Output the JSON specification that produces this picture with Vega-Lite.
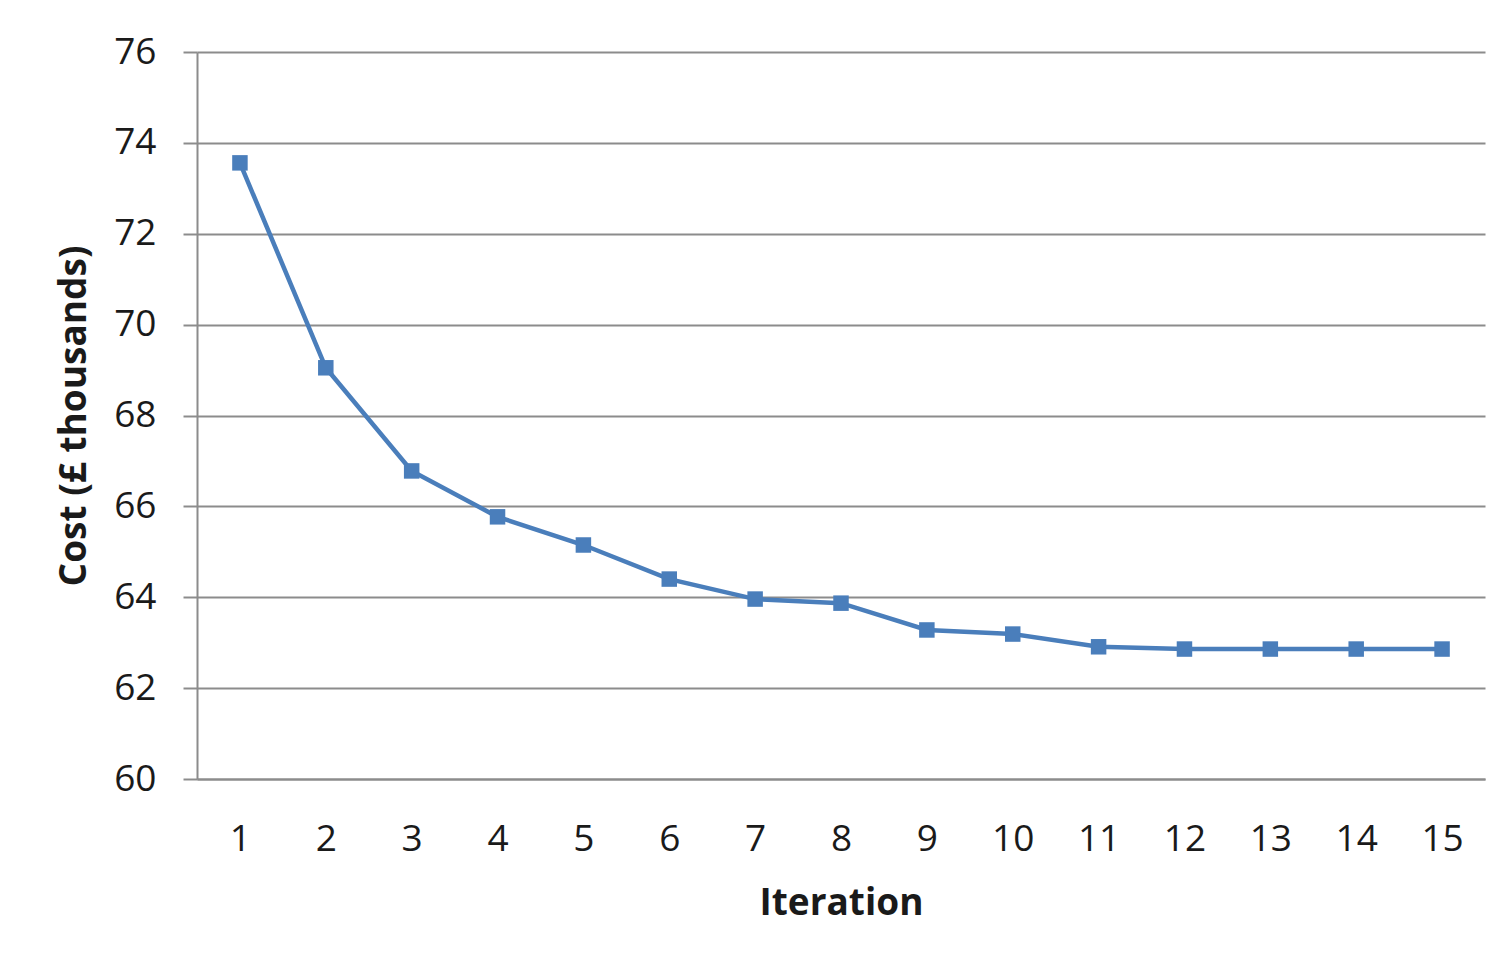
{
  "$schema": "https://vega.github.io/schema/vega-lite/v6.json",
  "autosize": {"type": "none"},
  "width": 1288,
  "height": 727,
  "padding": {"left": 197, "top": 52, "right": 25, "bottom": 183},
  "background": "white",
  "config": {
    "view": {"stroke": null},
    "font": "Open Sans"
  },
  "data": {
    "values": [
      {"Iteration": 1, "Cost": 73.56},
      {"Iteration": 2, "Cost": 69.05},
      {"Iteration": 3, "Cost": 66.78},
      {"Iteration": 4, "Cost": 65.77},
      {"Iteration": 5, "Cost": 65.15},
      {"Iteration": 6, "Cost": 64.4},
      {"Iteration": 7, "Cost": 63.96},
      {"Iteration": 8, "Cost": 63.87},
      {"Iteration": 9, "Cost": 63.28},
      {"Iteration": 10, "Cost": 63.19},
      {"Iteration": 11, "Cost": 62.91},
      {"Iteration": 12, "Cost": 62.86},
      {"Iteration": 13, "Cost": 62.86},
      {"Iteration": 14, "Cost": 62.86},
      {"Iteration": 15, "Cost": 62.86}
    ]
  },
  "encoding": {
    "x": {
      "field": "Iteration",
      "type": "ordinal",
      "scale": {"type": "point", "padding": 0.5},
      "axis": {
        "title": "Iteration",
        "labelAngle": 0,
        "labelFontSize": 37,
        "labelColor": "#1a1a1a",
        "labelPadding": 42,
        "ticks": false,
        "grid": false,
        "domainColor": "#8c8c8c",
        "domainWidth": 2,
        "titleFontSize": 37,
        "titleFontWeight": "bold",
        "titleColor": "#1a1a1a",
        "titlePadding": 28
      }
    },
    "y": {
      "field": "Cost",
      "type": "quantitative",
      "scale": {"domain": [60, 76], "nice": false, "zero": false},
      "axis": {
        "title": "Cost (£ thousands)",
        "values": [60, 62, 64, 66, 68, 70, 72, 74, 76],
        "labelFontSize": 37,
        "labelColor": "#1a1a1a",
        "labelPadding": 27,
        "tickSize": 14,
        "tickColor": "#8c8c8c",
        "tickWidth": 2,
        "gridColor": "#8c8c8c",
        "gridWidth": 2,
        "domainColor": "#8c8c8c",
        "domainWidth": 2,
        "titleFontSize": 37,
        "titleFontWeight": "bold",
        "titleColor": "#1a1a1a",
        "titlePadding": 20
      }
    }
  },
  "layer": [
    {"mark": {"type": "line", "color": "#4a7ebb", "strokeWidth": 4.5}},
    {"mark": {"type": "square", "color": "#4a7ebb", "filled": true, "opacity": 1, "size": 240}}
  ]
}
